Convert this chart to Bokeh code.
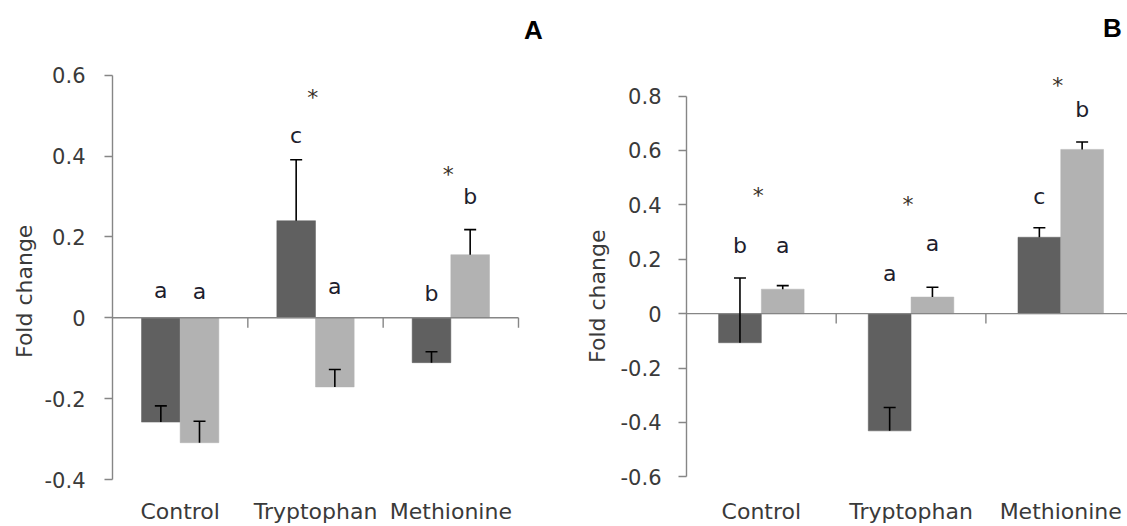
import math
from bokeh.plotting import figure
from bokeh.models import ColumnDataSource, FixedTicker, Whisker, TeeHead, Range1d
from bokeh.layouts import row
from bokeh.embed import file_html
from bokeh.resources import INLINE
from bokeh.core.properties import value

# ---------------- data ----------------
categories = ["Control", "Tryptophan", "Methionine"]

a_dark = [-0.258, 0.240, -0.111]
a_dark_err = [0.040, 0.151, 0.027]
a_light = [-0.309, -0.171, 0.156]
a_light_err = [0.053, 0.043, 0.062]
a_dark_letters = ["a", "c", "b"]
a_dark_letter_y = [0.068, 0.451, 0.061]
a_light_letters = ["a", "a", "b"]
a_light_letter_y = [0.064, 0.077, 0.299]
a_star_cat = [1, 2]
a_star_y = [0.55, 0.36]
a_yticks = [-0.4, -0.2, 0.0, 0.2, 0.4, 0.6]
a_ytick_labels = ["-0.4", "-0.2", "0", "0.2", "0.4", "0.6"]

b_dark = [-0.107, -0.431, 0.281]
b_dark_err = [0.238, 0.086, 0.035]
b_light = [0.090, 0.061, 0.604]
b_light_err = [0.013, 0.036, 0.027]
b_dark_letters = ["b", "a", "c"]
b_dark_letter_y = [0.252, 0.149, 0.430]
b_light_letters = ["a", "a", "b"]
b_light_letter_y = [0.252, 0.259, 0.752]
b_star_cat = [0, 1, 2]
b_star_y = [0.443, 0.409, 0.845]
b_yticks = [-0.6, -0.4, -0.2, 0.0, 0.2, 0.4, 0.6, 0.8]
b_ytick_labels = ["-0.6", "-0.4", "-0.2", "0", "0.2", "0.4", "0.6", "0.8"]

y_title = "Fold change"

DARK = "#606060"
LIGHT = "#b2b2b2"
AXIS = "#868686"
TXT = "#3a3a3a"
FONT = "DejaVu Sans"
HEIGHT = 526
MB_BOTTOM = 45
FRAME_BOTTOM = HEIGHT - MB_BOTTOM   # frames span y = 0 .. 481 (screen)


def y_range_for(y_lo, y_hi, sy_lo, sy_hi):
    """value y_lo sits at screen row sy_lo, y_hi at sy_hi; frame spans 0..FRAME_BOTTOM."""
    ppu = (sy_lo - sy_hi) / (y_hi - y_lo)
    return (y_lo - (FRAME_BOTTOM - sy_lo) / ppu, y_hi + sy_hi / ppu), ppu


def base_fig(width, mb_left, x_range, y_range):
    p = figure(width=width, height=HEIGHT, output_backend="svg", toolbar_location=None,
               x_range=Range1d(*x_range), y_range=Range1d(*y_range),
               min_border_left=mb_left, min_border_right=0,
               min_border_top=0, min_border_bottom=MB_BOTTOM)
    p.grid.visible = False
    p.outline_line_color = None
    p.background_fill_color = "white"
    p.border_fill_color = "white"
    return p


def title_fig(width, text_x, y_range, y_center):
    p = base_fig(width, 0, (0, width), y_range)
    p.xaxis.visible = False
    p.yaxis.visible = False
    p.text(x=[text_x], y=[y_center], text=[y_title], angle=math.pi / 2,
           text_font=value(FONT), text_font_size="22px", text_align="center",
           text_baseline="middle", text_color=TXT)
    return p


def panel(width, mb_left, x_end, y_range, ppu, dark, dark_err, light, light_err,
          dl, dly, ll, lly, star_cat, star_y, yticks, ylabels, letter, letter_xy,
          tick_standoff):
    p = base_fig(width, mb_left, (0, x_end), y_range)
    n = len(categories)
    bw = 1 / 3.5
    xd = [i + 0.5 - bw / 2 for i in range(n)]
    xl = [i + 0.5 + bw / 2 for i in range(n)]

    p.vbar(x=xd, top=dark, bottom=0, width=bw, fill_color=DARK, line_color=DARK, line_width=0.5)
    p.vbar(x=xl, top=light, bottom=0, width=bw, fill_color=LIGHT, line_color=LIGHT, line_width=0.5)

    # category axis line at zero with category separators
    x_stop = min(n, x_end)
    p.segment(x0=[0], y0=[0], x1=[x_stop], y1=[0], line_color=AXIS, line_width=1.4)
    tk = [i + 1 for i in range(n) if i + 1 <= x_end]
    p.segment(x0=tk, y0=[0] * len(tk), x1=tk, y1=[-10 / ppu] * len(tk),
              line_color=AXIS, line_width=1.4)

    # error bars (plus direction only)
    for xs, vals, errs in ((xd, dark, dark_err), (xl, light, light_err)):
        src = ColumnDataSource(dict(x=xs, lo=vals, hi=[v + e for v, e in zip(vals, errs)]))
        p.add_layout(Whisker(base="x", lower="lo", upper="hi", source=src, dimension="height",
                             line_color="black", line_width=1.6,
                             upper_head=TeeHead(size=12, line_color="black", line_width=1.6),
                             lower_head=None, level="annotation"))

    # significance letters and asterisks
    for xs, ys, ts in ((xd, dly, dl), (xl, lly, ll)):
        p.text(x=xs, y=ys, text=ts, text_font=value(FONT), text_font_size="22px",
               text_align="center", text_baseline="middle", text_color="#1e1e2e")
    p.text(x=[c + 0.48 for c in star_cat], y=star_y, text=["*"] * len(star_cat),
           text_font=value(FONT), text_font_size="22px", y_offset=2,
           text_align="center", text_baseline="middle", text_color="#3a3228")

    # panel letter
    p.text(x=[letter_xy[0]], y=[letter_xy[1]], text=[letter],
           text_font=value("Liberation Sans"), text_font_style="bold",
           text_font_size="26px", text_align="center", text_baseline="middle",
           text_color="black")

    # y axis
    ax = p.yaxis[0]
    ax.ticker = FixedTicker(ticks=yticks)
    ax.bounds = (yticks[0], yticks[-1])
    ax.major_label_overrides = {t: s for t, s in zip(yticks, ylabels)}
    ax.axis_line_color = AXIS
    ax.axis_line_width = 1.4
    ax.major_tick_line_color = AXIS
    ax.major_tick_line_width = 1.4
    ax.major_tick_out = 8
    ax.major_tick_in = 0
    ax.minor_tick_line_color = None
    ax.major_label_text_font = FONT
    ax.major_label_text_font_size = "21px"
    ax.major_label_text_color = TXT
    ax.major_label_standoff = tick_standoff

    # x axis: category names
    xa = p.xaxis[0]
    xa.ticker = FixedTicker(ticks=[i + 0.5 for i in range(n)])
    xa.major_label_overrides = {i + 0.5: c for i, c in enumerate(categories)}
    xa.axis_line_color = None
    xa.major_tick_line_color = None
    xa.minor_tick_line_color = None
    xa.major_tick_out = 0
    xa.major_tick_in = 0
    xa.major_label_standoff = 19
    xa.major_label_text_font = FONT
    xa.major_label_text_font_size = "22px"
    xa.major_label_text_color = TXT
    return p


# ---- panel A: y axis at x=112, 0.6 at y=75, -0.4 at y=481, categories 135.3 px wide
a_range, a_ppu = y_range_for(-0.4, 0.6, 481, 75)
a_cat_px = (518 - 112) / 3
a_x_end = (560 - 112) / a_cat_px
labA = title_fig(40, 24, a_range, 0.6 - (292 - 75) / a_ppu)
pA = panel(520, 72, a_x_end, a_range, a_ppu,
           a_dark, a_dark_err, a_light, a_light_err,
           a_dark_letters, a_dark_letter_y, a_light_letters, a_light_letter_y,
           a_star_cat, a_star_y, a_yticks, a_ytick_labels,
           "A", (3 + (533 - 518) / a_cat_px, 0.6 + (75 - 30) / a_ppu), 19)

# ---- panel B: y axis at x=686, 0.8 at y=96, -0.6 at y=478.3, categories 149.7 px wide
b_range, b_ppu = y_range_for(-0.6, 0.8, 478.3, 96)
b_cat_px = 149.7
b_x_end = (1127 - 686) / b_cat_px
labB = title_fig(50, 37, b_range, 0.8 - (297 - 96) / b_ppu)
pB = panel(517, 76, b_x_end, b_range, b_ppu,
           b_dark, b_dark_err, b_light, b_light_err,
           b_dark_letters, b_dark_letter_y, b_light_letters, b_light_letter_y,
           b_star_cat, b_star_y, b_yticks, b_ytick_labels,
           "B", ((1112 - 686) / b_cat_px, 0.8 + (96 - 28) / b_ppu), 17)

layout = row(labA, pA, labB, pB)
open("out.html", "w").write(file_html(layout, INLINE))
